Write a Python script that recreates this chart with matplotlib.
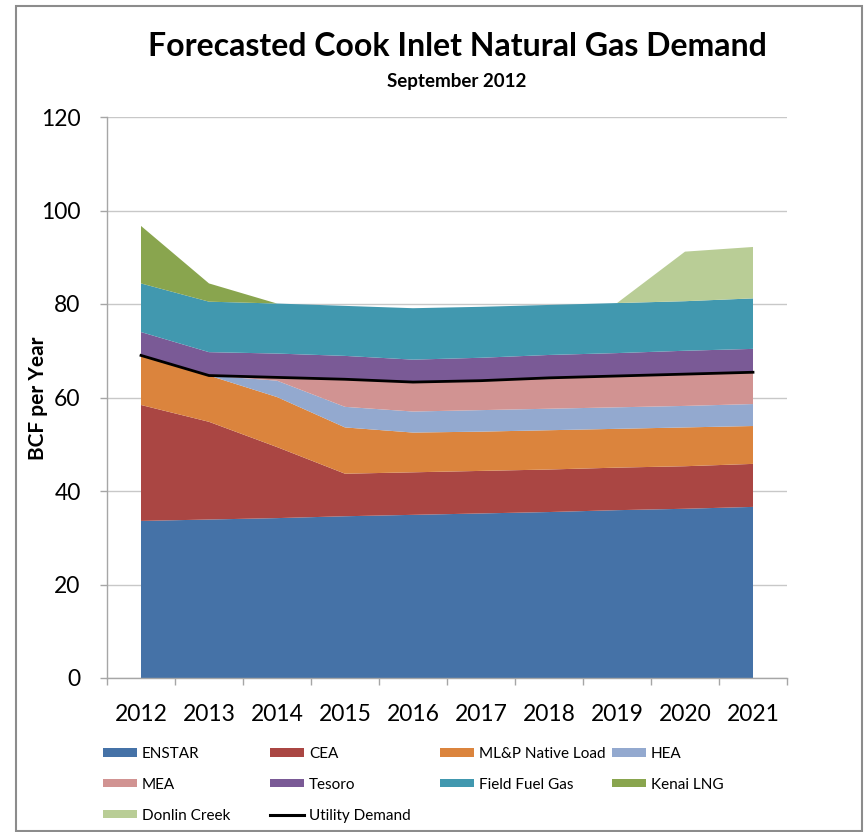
import matplotlib

matplotlib.use("Agg")
import matplotlib.pyplot as plt
import numpy as np
from matplotlib.lines import Line2D
from matplotlib.patches import Patch, Rectangle

plt.rcParams["font.family"] = ["Lato", "DejaVu Sans"]

# ---- data (BCF per year) ------------------------------------------------ #
years = [2012, 2013, 2014, 2015, 2016, 2017, 2018, 2019, 2020, 2021]
enstar = [33.6, 33.9, 34.2, 34.6, 34.9, 35.2, 35.5, 35.9, 36.2, 36.6]
cea = [24.8, 20.9, 15.2, 9.1, 9.1, 9.1, 9.1, 9.1, 9.1, 9.2]
mlp = [10.6, 9.9, 10.7, 9.9, 8.5, 8.4, 8.4, 8.3, 8.3, 8.1]
hea = [0.0, 0.0, 3.5, 4.4, 4.5, 4.6, 4.6, 4.6, 4.6, 4.7]
mea = [0.0, 0.0, 0.7, 5.9, 6.3, 6.3, 6.6, 6.7, 6.8, 6.8]
tesoro = [5.0, 5.0, 5.1, 5.0, 4.8, 4.9, 4.9, 4.9, 5.0, 5.0]
field_fuel = [10.4, 10.8, 10.7, 10.7, 11.0, 10.9, 10.7, 10.7, 10.6, 10.8]
kenai_lng = [12.3, 3.9, 0.0, 0.0, 0.0, 0.0, 0.0, 0.0, 0.0, 0.0]
donlin = [0.0, 0.0, 0.0, 0.0, 0.0, 0.0, 0.0, 0.0, 10.6, 11.0]
utility = [69.0, 64.7, 64.3, 63.9, 63.3, 63.6, 64.2, 64.6, 65.0, 65.4]

series = ["ENSTAR", "CEA", "ML&P Native Load", "HEA", "MEA", "Tesoro",
          "Field Fuel Gas", "Kenai LNG", "Donlin Creek"]
colors = ["#4572A7", "#AA4643", "#DB843D", "#93A9CF", "#D19392", "#7A5A96",
          "#4198AF", "#89A54E", "#B9CD96"]

GRAY = "#a6a6a6"
W, H = 864, 832

fig = plt.figure(figsize=(W / 100, H / 100), dpi=100)
ax = fig.add_axes([107 / W, 154 / H, 680 / W, 561 / H])

x = np.arange(len(years))
ax.stackplot(x, enstar, cea, mlp, hea, mea, tesoro, field_fuel, kenai_lng,
             donlin, colors=colors, linewidth=0, antialiased=True)
ax.plot(x, utility, color="black", lw=2.0, zorder=3)

ax.set_xlim(-0.5, len(years) - 0.5)
ax.set_ylim(0, 120)
ax.set_yticks(range(0, 121, 20))
ax.set_xticks(x)
ax.set_xticklabels([str(y) for y in years])
ax.set_xticks(np.arange(-0.5, len(years), 1), minor=True)
ax.tick_params(axis="x", which="major", length=0, pad=19, labelsize=16.5)
ax.tick_params(axis="x", which="minor", length=5, width=1, color=GRAY,
               direction="out")
ax.tick_params(axis="y", length=5, width=1, color=GRAY, direction="out",
               pad=14, labelsize=16.5)
ax.grid(axis="y", color="#c8c8c8", lw=1)
ax.set_axisbelow(True)
for side in ["top", "right"]:
    ax.spines[side].set_visible(False)
for side in ["left", "bottom"]:
    ax.spines[side].set_color(GRAY)
    ax.spines[side].set_linewidth(1)

fig.text(457 / W, 1 - 46 / H, "Forecasted Cook Inlet Natural Gas Demand",
         ha="center", va="center", fontsize=23, fontweight="bold")
fig.text(457 / W, 1 - 81 / H, "September 2012", ha="center", va="center",
         fontsize=13.5, fontweight="bold")
fig.text(38 / W, 1 - 398 / H, "BCF per Year", ha="center", va="center",
         rotation=90, fontsize=15, fontweight="bold")

# ---- legend: four columns placed like the original ----------------------- #
handles = {name: Patch(facecolor=c, edgecolor="none")
           for name, c in zip(series, colors)}
handles["Utility Demand"] = Line2D([], [], color="black", lw=2.2)
columns = [
    (103, ["ENSTAR", "MEA", "Donlin Creek"]),
    (270, ["CEA", "Tesoro", "Utility Demand"]),
    (440, ["ML&P Native Load", "Field Fuel Gas"]),
    (612, ["HEA", "Kenai LNG"]),
]
for xpx, names in columns:
    fig.legend([handles[n] for n in names], names, loc="upper left",
               bbox_to_anchor=(xpx / W, 1 - 747 / H),
               bbox_transform=fig.transFigure, frameon=False,
               borderpad=0, borderaxespad=0, fontsize=11,
               handlelength=2.2, handleheight=0.45, handletextpad=0.35,
               labelspacing=1.1)

fig.patches.append(Rectangle((16 / W, 1 / H), 846 / W, 825 / H,
                             transform=fig.transFigure, fill=False,
                             edgecolor="#8c8c8c", lw=1.5))

fig.savefig("out.png", dpi=100)
